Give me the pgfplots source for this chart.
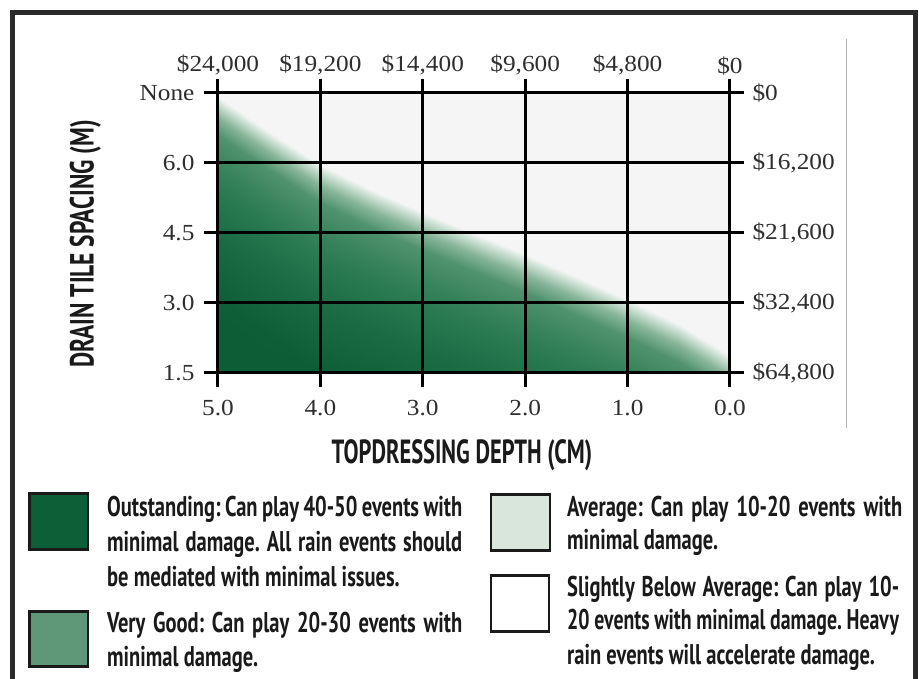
\documentclass[border=0pt]{standalone}
\usepackage{fontspec}
\setmainfont[FakeStretch=1.1]{Liberation Serif}
\newfontfamily\cond[FakeStretch=0.67]{PT Sans}
\newfontfamily\condy[FakeStretch=0.70]{PT Sans}
\newfontfamily\legfont[FakeStretch=0.72]{PT Sans}
\newfontfamily\legfontn[FakeStretch=0.695]{PT Sans}
\usepackage{pgfplots}
\usepackage{pgfplotstable}
\pgfplotsset{compat=1.18}
\definecolor{frameclr}{HTML}{2A2A2A}
\definecolor{bgclr}{HTML}{F5F5F5}
\definecolor{gdark}{HTML}{0C5F36}
\definecolor{gmid}{HTML}{5F9878}
\definecolor{glight}{HTML}{D8E6DC}
\definecolor{txt}{HTML}{1A1A1A}
\definecolor{ticktxt}{HTML}{2E2E2E}

% s = distance below the white edge (rows of q, depth from 5 down to 0)
\pgfplotstableread{
d   q   s
5   0   3
4.5 0   3
4   0   2.98
3.5 0   2.62
3   0   2.30
2.5 0   2.00
2   0   1.70
1.5 0   1.38
1   0   1.05
0.5 0   0.70
0   0   0.25
5   0.5 3
4.5 0.5 2.95
4   0.5 2.48
3.5 0.5 2.12
3   0.5 1.80
2.5 0.5 1.50
2   0.5 1.20
1.5 0.5 0.88
1   0.5 0.55
0.5 0.5 0.20
0   0.5 -0.25
5   1   2.95
4.5 1   2.45
4   1   1.98
3.5 1   1.62
3   1   1.30
2.5 1   1.00
2   1   0.70
1.5 1   0.38
1   1   0.05
0.5 1   -0.30
0   1   -0.5
5   1.5 2.45
4.5 1.5 1.95
4   1.5 1.48
3.5 1.5 1.12
3   1.5 0.80
2.5 1.5 0.50
2   1.5 0.20
1.5 1.5 -0.12
1   1.5 -0.45
0.5 1.5 -0.5
0   1.5 -0.5
5   2   1.95
4.5 2   1.45
4   2   0.98
3.5 2   0.62
3   2   0.30
2.5 2   0.00
2   2   -0.30
1.5 2   -0.5
1   2   -0.5
0.5 2   -0.5
0   2   -0.5
5   2.5 1.45
4.5 2.5 0.95
4   2.5 0.48
3.5 2.5 0.12
3   2.5 -0.20
2.5 2.5 -0.5
2   2.5 -0.5
1.5 2.5 -0.5
1   2.5 -0.5
0.5 2.5 -0.5
0   2.5 -0.5
5   3   0.95
4.5 3   0.45
4   3   -0.02
3.5 3   -0.38
3   3   -0.5
2.5 3   -0.5
2   3   -0.5
1.5 3   -0.5
1   3   -0.5
0.5 3   -0.5
0   3   -0.5
5   3.5 0.45
4.5 3.5 -0.05
4   3.5 -0.5
3.5 3.5 -0.5
3   3.5 -0.5
2.5 3.5 -0.5
2   3.5 -0.5
1.5 3.5 -0.5
1   3.5 -0.5
0.5 3.5 -0.5
0   3.5 -0.5
5   4   -0.05
4.5 4   -0.5
4   4   -0.5
3.5 4   -0.5
3   4   -0.5
2.5 4   -0.5
2   4   -0.5
1.5 4   -0.5
1   4   -0.5
0.5 4   -0.5
0   4   -0.5
}\shadetable

\pgfplotsset{
  common/.style={
    at={(218pt,306pt)}, anchor=south west,
    scale only axis, width=512pt, height=280pt,
    xmin=0, xmax=5, ymin=0, ymax=4, x dir=reverse,
    xtick={0,...,5}, ytick={0,...,4},
    tick align=outside, major tick length=14pt,
    tick label style={font=\fontsize{23}{23}\selectfont, text=ticktxt},
    /pgf/number format/assume math mode=true,
  }
}

\begin{document}
\frenchspacing
\begin{tikzpicture}
\fill[white] (0pt,0pt) rectangle (919pt,679pt);

\begin{axis}[common,
    axis on top,
    xtick pos=lower, ytick pos=left,
    xticklabels={0.0,1.0,2.0,3.0,4.0,5.0},
    yticklabels={1.5,3.0,4.5,6.0,None},
    xticklabel style={yshift=-10pt},
    yticklabel style={xshift=-6pt},
    grid=major, grid style={black, line width=3pt},
    axis line style={black, line width=3pt},
    tick style={black, line width=3pt},
    axis background/.style={fill=bgclr},
    colormap={greens}{rgb255(0cm)=(245,245,245) rgb255(0.5cm)=(245,245,245)
      rgb255(0.6cm)=(205,225,212) rgb255(0.8cm)=(135,181,153)
      rgb255(1.05cm)=(80,146,110) rgb255(1.5cm)=(55,131,92)
      rgb255(1.9cm)=(40,120,80) rgb255(2.5cm)=(27,108,68)
      rgb255(3.5cm)=(13,94,54)},
    point meta min=-0.5, point meta max=3,
  ]
  \addplot[surf, shader=interp, mesh/cols=11, point meta=explicit]
    table[x=d, y=q, meta=s] {\shadetable};
\end{axis}

\begin{axis}[common,
    xtick pos=upper, ytick pos=right,
    xticklabel pos=upper, yticklabel pos=right,
    xticklabels={{\$0},{\$4,800},{\$9,600},{\$14,400},{\$19,200},{\$24,000}},
    yticklabels={{\$64,800},{\$32,400},{\$21,600},{\$16,200},{\$0}},
    yticklabel style={xshift=5pt},
    axis line style={black, line width=3pt},
    tick style={black, line width=3pt},
  ]
  \addplot[draw=none] coordinates {(0,0)};
\end{axis}

\begin{scope}[x=1pt, y=1pt]
% axis titles
\node[font=\cond\bfseries\fontsize{33.5}{36}\selectfont, text=txt, anchor=base]
  at (462,215.5) {TOPDRESSING DEPTH (CM)};
\node[font=\condy\bfseries\fontsize{33.5}{36}\selectfont, text=txt, anchor=base, rotate=90]
  at (93.5,435) {DRAIN TILE SPACING (M)};

% thin edge of the pasted figure
\draw[black!30, line width=1pt] (846,640) -- (846,251);

% legend
\draw[line width=2.5pt, draw=txt, fill=gdark] (29.5,185.5) rectangle (88,129.5);
\draw[line width=2.5pt, draw=txt, fill=gmid] (29.5,67.5) rectangle (88,12.5);
\draw[line width=2.5pt, draw=txt, fill=glight] (491,184.5) rectangle (550,128.5);
\draw[line width=2.5pt, draw=txt, fill=white] (491,103.5) rectangle (549,47.5);

\begin{scope}[every node/.style={font=\legfont\bfseries\fontsize{28.5}{35}\selectfont, text=txt, anchor=base west, inner sep=0pt}]
  \node at (107,162) {\makebox[355pt][s]{Outstanding: Can play 40-50 events with}};
  \node at (107,127) {\makebox[355pt][s]{minimal damage. All rain events should}};
  \node at (107,92) {be mediated with minimal issues.};
  \node at (107,46) {\makebox[355pt][s]{Very Good: Can play 20-30 events with}};
  \node at (107,12) {minimal damage.};
  \node at (567,162) {\makebox[335pt][s]{Average: Can play 10-20 events with}};
  \node at (567,129) {minimal damage.};
  \node at (567,82) {\makebox[332pt][s]{Slightly Below Average: Can play 10-}};
  \node at (567,49) {\legfontn\makebox[332pt][s]{20 events with minimal damage. Heavy}};
  \node at (567,14) {rain events will accelerate damage.};
\end{scope}

% outer frame
\draw[frameclr, line width=5pt] (12,-30) -- (12,666.5) -- (915,666.5) -- (915,-30);
\end{scope}

\pgfresetboundingbox
\useasboundingbox (0pt,0pt) rectangle (919pt,679pt);
\end{tikzpicture}
\end{document}
